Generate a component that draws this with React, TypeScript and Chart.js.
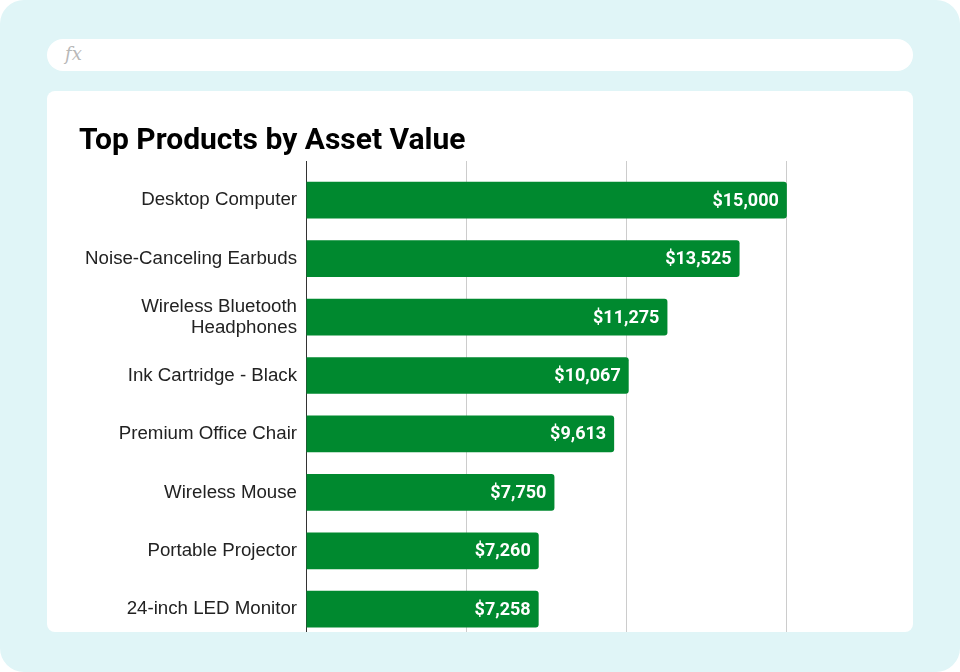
import React, { useEffect, useRef } from "react";
import { Chart, registerables } from "chart.js";

Chart.register(...registerables);

const categories: (string | string[])[] = [
  "Desktop Computer",
  "Noise-Canceling Earbuds",
  ["Wireless Bluetooth", "Headphones"],
  "Ink Cartridge - Black",
  "Premium Office Chair",
  "Wireless Mouse",
  "Portable Projector",
  "24-inch LED Monitor",
];
const assetValues: number[] = [15000, 13525, 11275, 10067, 9613, 7750, 7260, 7258];
const gridValues: number[] = [0, 5000, 10000, 15000];
const axisMax = 18000;

const fmt = (v: number) => "$" + v.toLocaleString("en-US");

const valueLabels = {
  id: "valueLabels",
  afterDatasetsDraw(chart: any) {
    const ctx = chart.ctx;
    const meta = chart.getDatasetMeta(0);
    ctx.save();
    ctx.font = "bold 18px Roboto";
    ctx.fillStyle = "#ffffff";
    ctx.textAlign = "right";
    ctx.textBaseline = "middle";
    meta.data.forEach((bar: any, i: number) => {
      ctx.fillText(fmt(assetValues[i]), bar.x - 8, bar.y + 1);
    });
    ctx.restore();
  },
};

export default function App() {
  const ref = useRef<HTMLCanvasElement>(null);
  useEffect(() => {
    const prev = document.body.style.margin;
    document.body.style.margin = "0";
    const chart = new Chart(ref.current!, {
      type: "bar",
      data: {
        labels: categories,
        datasets: [
          {
            data: assetValues,
            backgroundColor: "#00892f",
            borderRadius: 3,
            barPercentage: 1,
            categoryPercentage: 0.628,
          },
        ],
      },
      options: {
        indexAxis: "y",
        animation: false,
        responsive: false,
        maintainAspectRatio: false,
        layout: { padding: { left: 32, right: 30, top: 0, bottom: 12 } },
        plugins: {
          legend: { display: false },
          tooltip: { enabled: false },
          title: {
            display: true,
            text: "Top Products by Asset Value",
            align: "start",
            color: "#000000",
            font: { family: "Roboto", weight: "bold", size: 30 },
            padding: { top: 32, bottom: 2 },
          },
        },
        scales: {
          x: {
            position: "top",
            min: 0,
            max: axisMax,
            afterBuildTicks: (s: any) => {
              s.ticks = gridValues.map((v) => ({ value: v }));
            },
            ticks: { display: false },
            border: { display: false },
            grid: {
              drawTicks: true,
              tickLength: 10,
              color: (c: any) =>
                c.tick && c.tick.value === 0 ? "#333333" : "#cccccc",
            },
          },
          y: {
            afterFit: (s: any) => {
              s.width = 227;
            },
            border: { display: false },
            grid: { display: false, drawTicks: false },
            ticks: {
              color: "#222222",
              padding: 9,
              font: { family: "'Liberation Sans', Arial", size: 18.7, lineHeight: 1.13 },
            },
          },
        },
      },
      plugins: [valueLabels],
    });
    return () => {
      chart.destroy();
      document.body.style.margin = prev;
    };
  }, []);

  return (
    <div
      style={{
        position: "absolute",
        left: 0,
        top: 0,
        width: 960,
        height: 672,
        background: "#e0f5f7",
        borderRadius: 24,
        overflow: "hidden",
      }}
    >
      <div
        style={{
          position: "absolute",
          left: 47,
          top: 39,
          width: 866,
          height: 32,
          background: "#ffffff",
          borderRadius: 16,
        }}
      >
        <span
          style={{
            position: "absolute",
            left: 18,
            top: 4,
            fontFamily: "'DejaVu Serif', 'Liberation Serif', serif",
            fontStyle: "italic",
            fontSize: 18,
            color: "#b8b8b8",
          }}
        >
          fx
        </span>
      </div>
      <div
        style={{
          position: "absolute",
          left: 47,
          top: 91,
          width: 866,
          height: 541,
          background: "#ffffff",
          borderRadius: 8,
          overflow: "hidden",
        }}
      >
        <canvas ref={ref} width={866} height={567} style={{ display: "block" }} />
      </div>
    </div>
  );
}
